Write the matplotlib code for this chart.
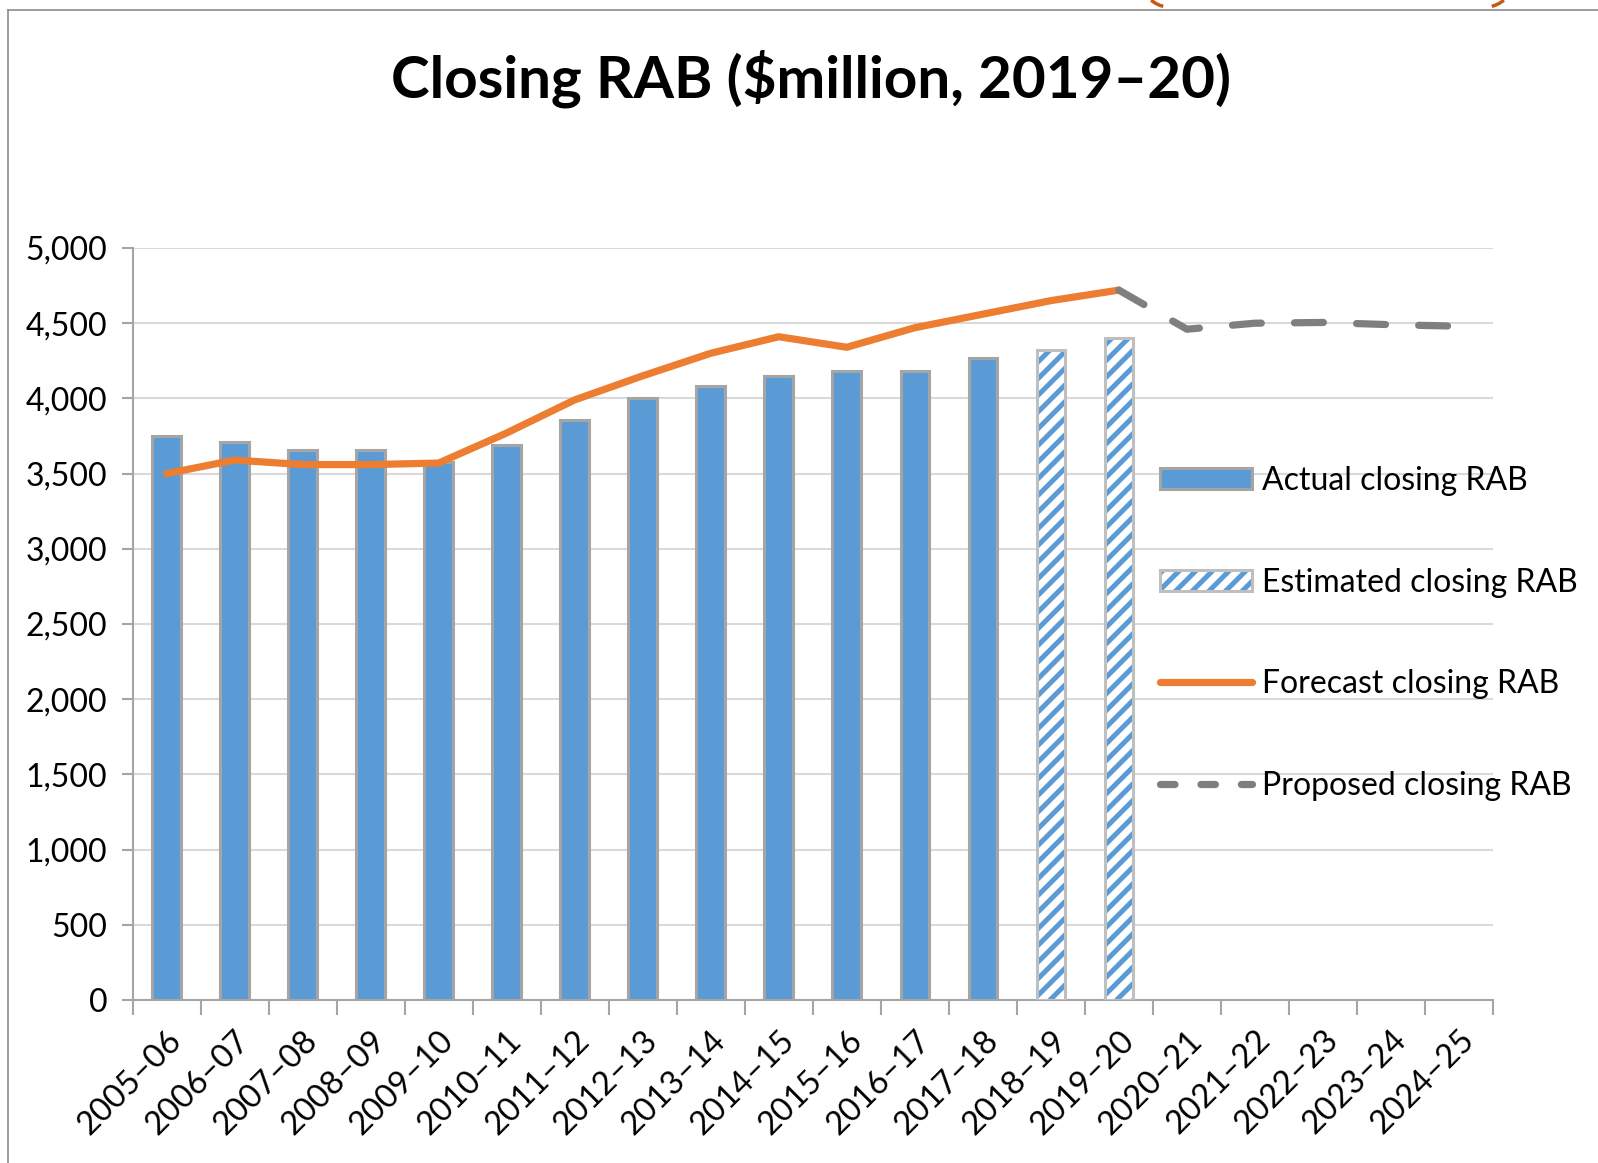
import matplotlib
matplotlib.use("Agg")
import matplotlib.pyplot as plt
import numpy as np
from matplotlib.lines import Line2D
from matplotlib.patches import Patch, Arc
from matplotlib.ticker import FuncFormatter, FixedLocator
from matplotlib.legend_handler import HandlerTuple

plt.rcParams['font.family'] = ['Lato', 'DejaVu Sans']
plt.rcParams['hatch.linewidth'] = 3.6

years = ["2005–06", "2006–07", "2007–08", "2008–09", "2009–10", "2010–11", "2011–12",
         "2012–13", "2013–14", "2014–15", "2015–16", "2016–17", "2017–18", "2018–19",
         "2019–20", "2020–21", "2021–22", "2022–23", "2023–24", "2024–25"]
actual = [3750, 3710, 3660, 3660, 3580, 3690, 3855, 4000, 4080, 4150, 4180, 4180, 4270]
estimated = [4320, 4400]
forecast = [3500, 3590, 3560, 3560, 3570, 3770, 3990, 4150, 4300, 4410, 4340, 4470, 4560, 4650, 4720]
proposed = [4720, 4460, 4500, 4505, 4490, 4480]

BLUE = "#5B9BD5"
ORANGE = "#ED7D31"
GRAY = "#7F7F7F"
EDGE = "#A5A5A5"
EDGE2 = "#BFBFBF"

W, H = 1598, 1163
fig = plt.figure(figsize=(W/100, H/100), dpi=100)
L, R, B, T = 132.5, 1493, 1000, 248
ax = fig.add_axes([L/W, 1-B/H, (R-L)/W, (B-T)/H])

x = np.arange(len(years))
bw = 0.42
ax.bar(x[:len(actual)], actual, width=bw, color=BLUE, edgecolor=EDGE, linewidth=2.2, zorder=3)
xe = x[len(actual):len(actual)+len(estimated)]
ax.bar(xe, estimated, width=bw, color="white", edgecolor=BLUE, hatch="//", linewidth=0, zorder=3)
ax.bar(xe, estimated, width=bw, fill=False, edgecolor=EDGE2, linewidth=2.2, zorder=4)

ax.plot(x[:len(forecast)], forecast, color=ORANGE, lw=5.2, solid_capstyle='round',
        solid_joinstyle='round', zorder=5)
xp = x[len(forecast)-1:len(forecast)-1+len(proposed)]
ax.plot(xp, proposed, color=GRAY, lw=5.2, dashes=(4.0, 4.6), dash_capstyle='round', zorder=5)

ax.set_xlim(-0.5, len(years)-0.5)
ax.set_ylim(0, 5000)
ax.set_yticks(np.arange(0, 5001, 500))
ax.yaxis.set_major_formatter(FuncFormatter(lambda v, p: f"{int(v):,}"))
ax.grid(axis='y', color="#D9D9D9", lw=1.5, zorder=0)
ax.set_axisbelow(True)

ax.set_xticks(x)
ax.set_xticklabels(years, rotation=45, ha='right', rotation_mode='anchor', fontsize=23.5)
ax.tick_params(axis='x', which='major', length=0, pad=18)
ax.xaxis.set_minor_locator(FixedLocator(np.arange(-0.5, len(years), 1.0)))
ax.tick_params(axis='x', which='minor', length=11, width=1.5, color=EDGE)
ax.tick_params(axis='y', length=8, width=1.5, color=EDGE, labelsize=23, pad=10)

for s in ['top', 'right']:
    ax.spines[s].set_visible(False)
for s in ['left', 'bottom']:
    ax.spines[s].set_color(EDGE)
    ax.spines[s].set_linewidth(1.5)

fig.text(0.5077, 1-79/H, "Closing RAB ($million, 2019–20)", ha='center', va='center',
         fontsize=42, fontweight='bold')

handles = [
    Patch(facecolor=BLUE, edgecolor=EDGE, linewidth=2.2),
    (Patch(facecolor="white", edgecolor=BLUE, hatch="//", linewidth=0),
     Patch(fill=False, edgecolor=EDGE2, linewidth=2.2)),
    Line2D([0], [0], color=ORANGE, lw=5.2, solid_capstyle='round'),
    Line2D([0], [0], color=GRAY, lw=5.2, dashes=(2.0, 3.6), dash_capstyle='round'),
]
labels = ["Actual closing RAB", "Estimated closing RAB", "Forecast closing RAB", "Proposed closing RAB"]
leg = fig.legend(handles, labels, loc='upper left', bbox_to_anchor=(1160/W, 1-466/H),
                 frameon=False, fontsize=23, handlelength=2.87, handletextpad=0.32,
                 labelspacing=2.24, handleheight=0.65, borderpad=0, borderaxespad=0,
                 handler_map={tuple: HandlerTuple(ndivide=1, pad=0)})

# chart frame
fig.add_artist(Line2D([8/W, 8/W], [0, 1-10/H], transform=fig.transFigure,
                      color="#8C8C8C", lw=1.2))
fig.add_artist(Line2D([8/W, 1], [1-10/H, 1-10/H], transform=fig.transFigure,
                      color="#8C8C8C", lw=1.2))
# orange header fragment (bottoms of brackets) peeking above the frame
fig.add_artist(Arc((1175/W, 1-(-12)/H), 60/W, 40/H, theta1=215, theta2=245,
                   transform=fig.transFigure, color="#C55A11", lw=2.5))
fig.add_artist(Arc((1480/W, 1-(-12)/H), 60/W, 40/H, theta1=295, theta2=325,
                   transform=fig.transFigure, color="#C55A11", lw=2.5))

fig.savefig("out.png", dpi=100)
